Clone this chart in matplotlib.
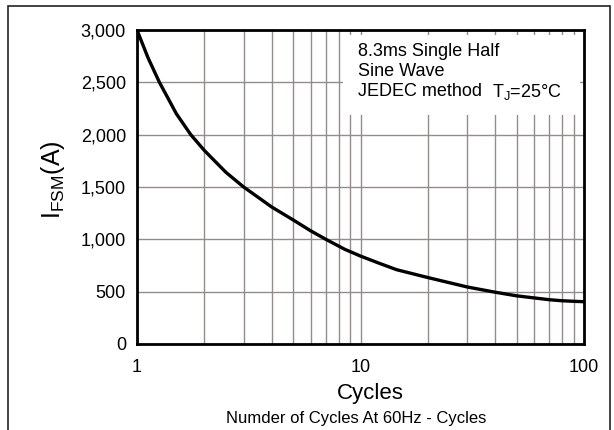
import matplotlib
matplotlib.use("Agg")
import matplotlib.pyplot as plt
from matplotlib.patches import Rectangle
from matplotlib.ticker import FixedLocator, FuncFormatter, NullFormatter

plt.rcParams['font.family'] = ['Liberation Sans', 'DejaVu Sans']
plt.rcParams['mathtext.fontset'] = 'custom'
plt.rcParams['mathtext.rm'] = 'Liberation Sans'
plt.rcParams['mathtext.it'] = 'Liberation Sans'

# data
cycles = [1, 1.12, 1.26, 1.5, 1.74, 2, 2.5, 3, 4, 5, 6, 7, 8.5, 10, 12, 14.5, 20, 30, 40, 50, 60, 70, 80, 90, 100]
ifsm = [3000, 2735, 2500, 2200, 2000, 1850, 1640, 1500, 1310, 1185, 1080, 1000, 905, 840, 775, 710, 635, 545, 495, 460, 440, 423, 413, 408, 404]

x_major = [1, 10, 100]
x_major_labels = ["1", "10", "100"]
x_minor = [2, 3, 4, 5, 6, 7, 8, 9, 20, 30, 40, 50, 60, 70, 80, 90]
y_ticks = [0, 500, 1000, 1500, 2000, 2500, 3000]

note_lines = ["8.3ms Single Half", "Sine Wave", "JEDEC method"]
note_temp = r"T$_{\mathregular{J}}$=25°C"

W, H = 614, 430
fig = plt.figure(figsize=(W / 100, H / 100), dpi=100)
ax = fig.add_axes([137 / W, 1 - 344 / H, 447 / W, 314 / H])

ax.set_xscale('log')
ax.set_xlim(1, 100)
ax.set_ylim(0, 3000)

ax.xaxis.set_major_locator(FixedLocator(x_major))
ax.xaxis.set_major_formatter(FuncFormatter(lambda v, p: x_major_labels[x_major.index(v)] if v in x_major else ""))
ax.xaxis.set_minor_locator(FixedLocator(x_minor))
ax.xaxis.set_minor_formatter(NullFormatter())
ax.set_yticks(y_ticks)
ax.yaxis.set_major_formatter(FuncFormatter(lambda v, p: f"{int(v):,}"))

ax.tick_params(axis='both', which='both', length=0, labelsize=13)
ax.tick_params(axis='x', pad=11)
ax.tick_params(axis='y', pad=8)

grid_kw = dict(color='#948b8b', linewidth=1.0)
ax.grid(True, axis='x', which='both', **grid_kw)
ax.grid(True, axis='y', which='major', **grid_kw)
ax.set_axisbelow(True)

for s in ax.spines.values():
    s.set_linewidth(2.0)
    s.set_color('black')

# white note box
ax.add_patch(Rectangle(((343 - 137) / 447, (344 - 115) / 314), (580 - 343) / 447, (115 - 35) / 314,
                       transform=ax.transAxes, facecolor='white', edgecolor='none', zorder=1.5))

ax.plot(cycles, ifsm, color='black', linewidth=2.4, zorder=3,
        solid_capstyle='round', solid_joinstyle='round')

for i, t in enumerate(note_lines):
    fig.text(358 / W, 1 - (52 + 20 * i) / H, t, fontsize=13, ha='left', va='center')
fig.text(492 / W, 1 - 92 / H, note_temp, fontsize=13, ha='left', va='center')

fig.text(53 / W, 1 - 180 / H, r"I$_{\mathregular{FSM}}$(A)", fontsize=18, rotation=90, ha='center', va='center')
fig.text(370 / W, 1 - 393 / H, "Cycles", fontsize=16, ha='center', va='center')
fig.text(356 / W, 1 - 418 / H, "Numder of Cycles At 60Hz - Cycles", fontsize=12, ha='center', va='center')

fig.add_artist(Rectangle((8 / W, -0.05), (610 - 8) / W, (H - 6) / H + 0.05, transform=fig.transFigure,
                         fill=False, edgecolor='#222222', linewidth=1.2, clip_on=False))

fig.savefig("out.png", dpi=100)
